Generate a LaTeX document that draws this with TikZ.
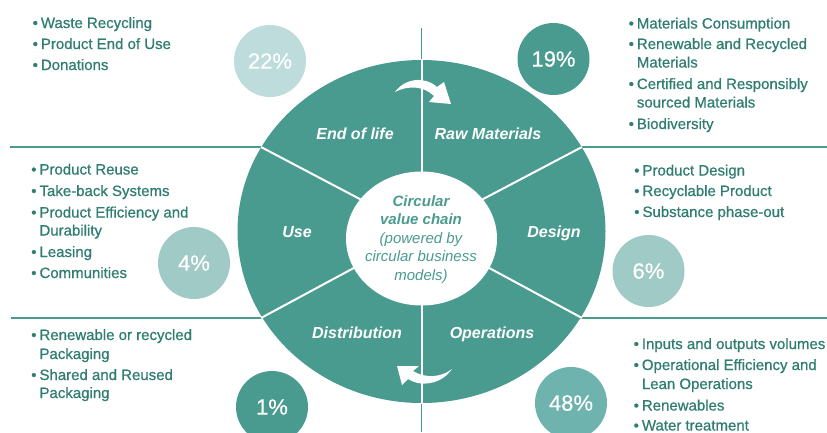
\documentclass[tikz,border=0pt]{standalone}
\usepackage{fontspec}
\setmainfont{Liberation Sans}
\newfontfamily\blf[FakeBold=0.8]{Liberation Sans}
\newfontfamily\pcf[FakeBold=0.5]{Liberation Sans}
\definecolor{ringc}{HTML}{4A9B8F}
\definecolor{txtc}{HTML}{307D71}
\definecolor{cA}{HTML}{BEDCDC}
\definecolor{cB}{HTML}{9FCAC5}
\definecolor{cC}{HTML}{6FB3AE}
\newcommand{\bu}{\llap{\textbullet\hspace{3pt}}}
\tikzset{
  bt/.style={anchor=base west, inner sep=0pt, text=txtc, font=\blf\fontsize{15}{18}\selectfont},
  seg/.style={anchor=base, inner sep=0pt, text=white, font=\fontsize{16}{19}\selectfont\bfseries\itshape},
  ctr/.style={anchor=base, inner sep=0pt, text=ringc, font=\fontsize{15}{18}\selectfont\itshape},
  pct/.style={circle, minimum size=72pt, inner sep=0pt, text=white, font=\pcf\fontsize{22}{24}\selectfont},
  tline/.style={draw=ringc, line width=1.3pt},
  wline/.style={draw=white, line width=2pt},
}
\begin{document}
\begin{tikzpicture}[x=1pt,y=-1pt]
\useasboundingbox (0,0) rectangle (827,432);
\clip (0,0) rectangle (827,432);
% outer thin lines
\coordinate (hl1) at (10,147);  \coordinate (hl1e) at (262,147);
\coordinate (hr1) at (580,147); \coordinate (hr1e) at (827,147);
\coordinate (hl2) at (11,318);  \coordinate (hl2e) at (262,318);
\coordinate (hr2) at (580,318); \coordinate (hr2e) at (827,318);
\coordinate (vt) at (421.5,28); \coordinate (vte) at (421.5,62);
\coordinate (vb) at (421.5,401); \coordinate (vbe) at (421.5,432);
\draw[tline] (hl1) -- (hl1e);
\draw[tline] (hr1) -- (hr1e);
\draw[tline] (hl2) -- (hl2e);
\draw[tline] (hr2) -- (hr2e);
\draw[tline] (vt) -- (vte);
\draw[tline] (vb) -- (vbe);
% ring
\coordinate (O) at (421.5,231.5);
\fill[ringc] (O) ellipse [x radius=184pt, y radius=171.5pt];
\coordinate (p1) at (421.5,59);
\coordinate (p2) at (421.5,404);
\coordinate (p3) at (261,147);
\coordinate (p4) at (582,147);
\coordinate (p5) at (261,318);
\coordinate (p6) at (582,318);
\foreach \p in {p1,p2,p3,p4,p5,p6} {\draw[wline] (O) -- (\p);}
\fill[white] (421.5,238.5) ellipse [x radius=75.5pt, y radius=67pt];
% arrows
\fill[white] (395,92) .. controls (405,78) and (425,76) .. (437,87) -- (444,82) -- (451,104) -- (429,102) -- (434,96)
  .. controls (424,86) and (408,85) .. cycle;
\fill[white] (452,369) .. controls (441,385) and (420,387) .. (408,379) -- (402,385) -- (397,366) -- (419,366) -- (413,371)
  .. controls (426,379) and (442,377) .. cycle;
% segment labels
\node[seg] (eol) at (355,139) {End of life};
\node[seg] (raw) at (488,139) {Raw Materials};
\node[seg] (use) at (297,237.5) {Use};
\node[seg] (des) at (554,237.5) {Design};
\node[seg] (dis) at (357,338.5) {Distribution};
\node[seg] (ope) at (492,338.5) {Operations};
% center
\node[ctr,font=\fontsize{15}{18}\selectfont\bfseries\itshape] (c1) at (421,206) {Circular};
\node[ctr,font=\fontsize{15}{18}\selectfont\bfseries\itshape] (c2) at (421,224.5) {value chain};
\node[ctr] (c3) at (421,243) {(powered by};
\node[ctr] (c4) at (421,261.5) {circular business};
\node[ctr] (c5) at (421,280) {models)};
% percentage circles
\node[pct,fill=cA] (n22) at (270,61) {22\%};
\node[pct,fill=ringc] (n19) at (553.5,59) {19\%};
\node[pct,fill=cB] (n4) at (194,263) {4\%};
\node[pct,fill=cB] (n6) at (648.5,271) {6\%};
\node[pct,fill=ringc] (n1) at (272,407) {1\%};
\node[pct,fill=cC] (n48) at (571,403) {48\%};
% top left
\node[bt] (tl1) at (40.7,28) {\bu Waste Recycling};
\node[bt] (tl2) at (40.7,49) {\bu Product End of Use};
\node[bt] (tl3) at (40.7,70) {\bu Donations};
% top right
\node[bt] (tr1) at (636.7,28.5) {\bu Materials Consumption};
\node[bt] (tr2) at (636.7,49) {\bu Renewable and Recycled};
\node[bt] (tr3) at (636.7,67.5) {Materials};
\node[bt] (tr4) at (636.7,89) {\bu Certified and Responsibly};
\node[bt] (tr5) at (636.7,107.5) {sourced Materials};
\node[bt] (tr6) at (636.7,129) {\bu Biodiversity};
% middle left
\node[bt] (ml1) at (39.3,174.5) {\bu Product Reuse};
\node[bt] (ml2) at (39.3,196) {\bu Take-back Systems};
\node[bt] (ml3) at (39.3,217.5) {\bu Product Efficiency and};
\node[bt] (ml4) at (39.3,235.5) {Durability};
\node[bt] (ml5) at (39.3,257) {\bu Leasing};
\node[bt] (ml6) at (39.3,278) {\bu Communities};
% middle right
\node[bt] (mr1) at (642.3,175.5) {\bu Product Design};
\node[bt] (mr2) at (642.3,196) {\bu Recyclable Product};
\node[bt] (mr3) at (642.3,217) {\bu Substance phase-out};
% bottom left
\node[bt] (bl1) at (39.3,340) {\bu Renewable or recycled};
\node[bt] (bl2) at (39.3,359) {Packaging};
\node[bt] (bl3) at (39.3,380) {\bu Shared and Reused};
\node[bt] (bl4) at (39.3,398) {Packaging};
% bottom right
\node[bt] (br1) at (641.7,349) {\bu Inputs and outputs volumes};
\node[bt] (br2) at (641.7,370) {\bu Operational Efficiency and};
\node[bt] (br3) at (641.7,389) {Lean Operations};
\node[bt] (br4) at (641.7,410.5) {\bu Renewables};
\node[bt] (br5) at (641.7,430.5) {\bu Water treatment};
\end{tikzpicture}
\end{document}
